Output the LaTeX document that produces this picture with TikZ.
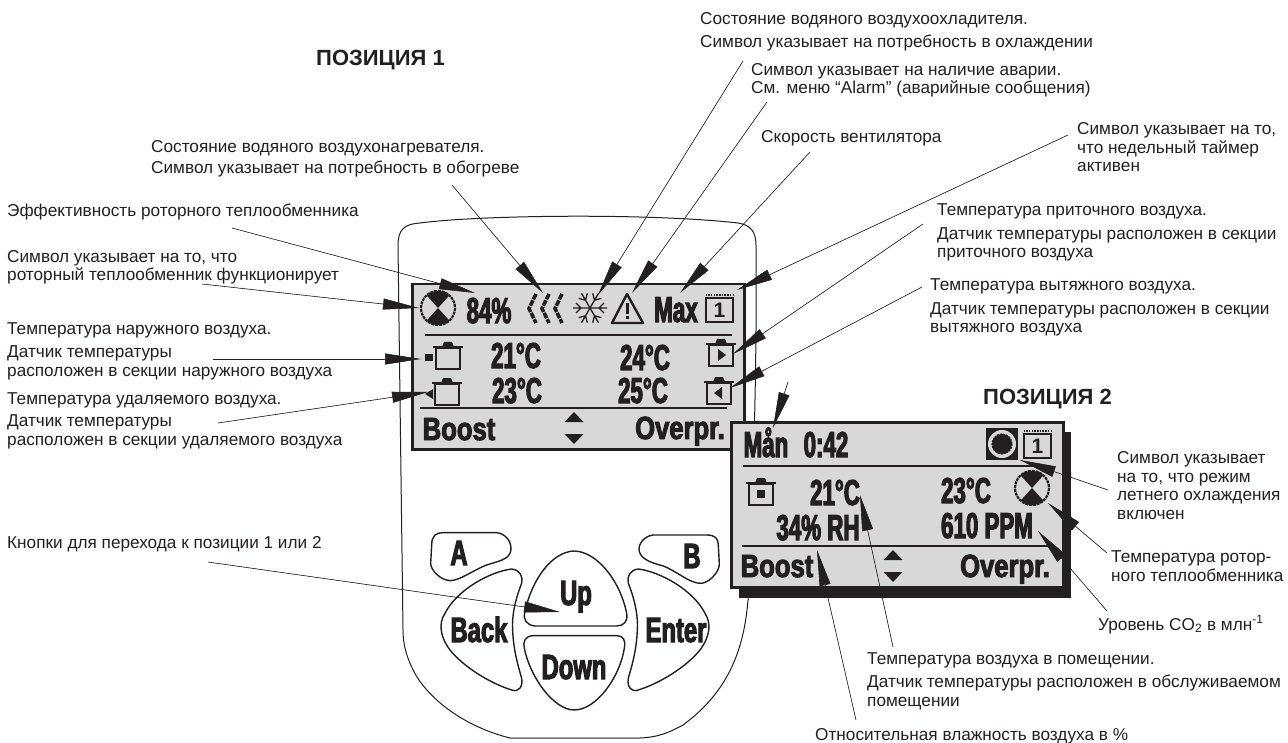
\documentclass[tikz,border=0pt]{standalone}
\usepackage{fontspec}
\setmainfont{Liberation Sans}
\newfontfamily\lcdfont[UprightFont=* Bold,FakeStretch=0.62,FakeBold=3]{Liberation Sans}
\newfontfamily\keyfont[UprightFont=* Bold,FakeStretch=0.8,FakeBold=3]{Liberation Sans}
\newfontfamily\btnfont[UprightFont=* Bold,FakeStretch=0.68,FakeBold=3]{Liberation Sans}
\usepackage{tikz}
\usetikzlibrary{arrows.meta}
\definecolor{ink}{HTML}{231F20}
\definecolor{lcdgray}{HTML}{D9D8D8}

\begin{document}
\begin{tikzpicture}[
    x=1pt, y=-1pt,
    lbl/.style={anchor=base west, inner sep=0pt, align=left, text=ink,
                font=\fontsize{17.2}{18.5}\selectfont},
    heading/.style={anchor=base west, inner sep=0pt, text=ink,
                font=\bfseries\fontsize{22}{24}\selectfont},
    lcdtxt/.style={anchor=base, inner sep=0pt, text=ink,
                font=\lcdfont\fontsize{36}{36}\selectfont},
    keytxt/.style={anchor=base, inner sep=0pt, text=ink,
                font=\keyfont\fontsize{32}{32}\selectfont},
    btntxt/.style={anchor=base, inner sep=0pt, text=ink,
                font=\btnfont\fontsize{35}{35}\selectfont},
    screen/.style={draw=ink, line width=2.5pt, fill=lcdgray},
    rule/.style={draw=ink, line width=1.5pt},
    btn/.style={draw=ink, line width=1.4pt, fill=white, line join=round},
    leader/.style={draw=ink, line width=0.6pt,
                -{Triangle[length=36pt,width=11pt]}, fill=ink},
    fanicon/.pic={
        \fill[ink] (0,0) -- (48:17) arc (48:132:17) -- cycle;
        \fill[ink] (0,0) -- (228:17) arc (228:312:17) -- cycle;
        \draw[ink, line width=2.2pt, dash pattern=on 3pt off 0.8pt] (0,0) circle (17);
    },
    calicon/.pic={
        \draw[ink, line width=2pt] (-13.5,-10) rectangle (14,14);
        \draw[ink, line width=2pt, dash pattern=on 1.5pt off 1.2pt] (-13.5,-13) -- (14,-13);
        \node[inner sep=0pt, text=ink, font=\bfseries\fontsize{21}{21}\selectfont] (digit) at (0.5,2) {1};
    },
    boxicon/.pic={
        \draw[ink, line width=2pt] (-12,-10) rectangle (12,11);
        \draw[ink, line width=2pt] (-15,-11) -- (15,-11);
        \fill[ink] (-6,-11) -- (-4,-16) -- (4,-16) -- (6,-11) -- cycle;
    },
    updown/.pic={
        \fill[ink] (0,-16) -- (9.5,-6) -- (-9.5,-6) -- cycle;
        \fill[ink] (0,16) -- (9.5,6) -- (-9.5,6) -- cycle;
    }
]
\useasboundingbox (0,0) rectangle (1288,743);

% device outline
\draw[ink, line width=1pt] (398,245) .. controls (398,229) and (405,224) .. (420,223)
    .. controls (480,215) and (650,213) .. (738,223)
    .. controls (750,225) and (756,231) .. (756,245)
    .. controls (757,350) and (754,480) .. (748,600)
    .. controls (744,650) and (728,692) .. (683,725)
    .. controls (670,732) and (660,737) .. (640,738) -- (510,738)
    .. controls (470,728) and (435,705) .. (417,677)
    .. controls (407,660) and (403,645) .. (403,630) -- cycle;

% screen position 1
\node[screen, minimum width=332pt, minimum height=165pt, inner sep=0pt, anchor=north west] (screen1) at (411,283) {};
\draw[rule] (425,335) -- (732,335);
\draw[rule] (420,408) -- (727,408);
\pic at (438,308) {fanicon};
\node[lcdtxt] (pct) at (489,323) {84\%};
\foreach \x in {529,542,555}
    \draw[ink, line width=3.6pt, dash pattern=on 6pt off 1pt] (\x+7,294) -- (\x,308.5) -- (\x+7,323);
\foreach \a in {0,60,120,180,240,300}
    \draw[ink, line width=1.3pt, rotate around={\a:(590,308)}] (590,308) -- (607,308) (599,308) -- (604,303) (599,308) -- (604,313);
\draw[ink, line width=2.4pt, line join=round] (627,294) -- (643,323) -- (612,323) -- cycle;
\fill[ink] (625.6,303) rectangle (628.6,314);
\fill[ink] (625.6,316) rectangle (628.6,319);
\node[lcdtxt] (fanspeed) at (676,322) {Max};
\pic at (719,308) {calicon};
\pic at (448,358) {boxicon};
\fill[ink] (425,354) rectangle (433,361);
\node[lcdtxt] (tempout) at (516,368) {21°C};
\node[lcdtxt] (tempsup) at (645,370) {24°C};
\pic at (721,355) {boxicon};
\fill[ink] (718,349) -- (726,355) -- (718,361) -- cycle;
\pic at (447,394) {boxicon};
\fill[ink] (425,394) -- (433,389) -- (433,399) -- cycle;
\node[lcdtxt] (tempexh) at (517,403) {23°C};
\node[lcdtxt] (tempext) at (643,403) {25°C};
\pic at (719,393) {boxicon};
\fill[ink] (722,387) -- (714,393) -- (722,399) -- cycle;
\node[keytxt] (boost1) at (459,440) {Boost};
\pic at (574,428) {updown};
\node[keytxt] (overpr1) at (680,439) {Overpr.};

% screen position 2
\fill[ink] (739,432) rectangle (1071,598);
\node[screen, minimum width=332pt, minimum height=165pt, inner sep=0pt, anchor=north west] (screen2) at (730,421) {};
\node[lcdtxt] (manual) at (766,457) {Mån};
\node[lcdtxt] (clock) at (826,457) {0:42};
\fill[ink] (986,428) rectangle (1018,460);
\fill[lcdgray] (1002,444) circle (14);
\draw[ink, line width=1.2pt, dash pattern=on 2pt off 1pt, fill=ink] (1002,444) circle (10);
\pic at (1037,444) {calicon};
\draw[rule] (743,466) -- (1050,466);
\pic at (761,494) {boxicon};
\fill[ink] (757,490) rectangle (765,498);
\node[lcdtxt] (tempin) at (835,505) {21°C};
\node[lcdtxt] (temprot) at (966,503) {23°C};
\pic at (1032,488) {fanicon};
\node[lcdtxt] (rhum) at (818,540) {34\% RH};
\node[lcdtxt] (ppm) at (987,538) {610 PPM};
\draw[rule] (742,546) -- (1048,546);
\node[keytxt] (boost2) at (777,577) {Boost};
\pic at (893,566) {updown};
\node[keytxt] (overpr2) at (1005,577) {Overpr.};

% buttons
\begin{scope}[shift={(390,470)}, x=0.3333pt, y=-0.3333pt]
\draw[btn] (125,225) .. controls (125,195) and (140,188) .. (160,188) -- (320,188)
    .. controls (345,190) and (368,215) .. (362,245) .. controls (355,270) and (320,275) .. (290,285)
    .. controls (250,300) and (210,332) .. (180,332) .. controls (150,330) and (122,300) .. (122,280) -- cycle;
\draw[btn] (985,225) .. controls (985,205) and (975,195) .. (950,195) -- (790,195)
    .. controls (765,197) and (742,222) .. (748,245) .. controls (755,270) and (790,280) .. (820,288)
    .. controls (860,303) and (900,342) .. (935,340) .. controls (965,335) and (990,300) .. (988,280) -- cycle;
\draw[btn] (365,297) .. controls (390,300) and (400,320) .. (395,340) .. controls (375,390) and (365,440) .. (368,480)
    .. controls (370,540) and (385,590) .. (395,625) .. controls (400,650) and (385,668) .. (365,660)
    .. controls (300,640) and (220,590) .. (180,540) .. controls (150,500) and (145,460) .. (165,430)
    .. controls (200,360) and (300,305) .. (365,297) -- cycle;
\draw[btn] (745,297) .. controls (720,300) and (710,320) .. (715,340) .. controls (735,390) and (745,440) .. (742,480)
    .. controls (740,540) and (725,590) .. (715,625) .. controls (710,650) and (725,668) .. (745,660)
    .. controls (810,640) and (890,590) .. (930,540) .. controls (960,500) and (965,460) .. (945,430)
    .. controls (910,360) and (810,305) .. (745,297) -- cycle;
\draw[btn] (553,243) .. controls (620,245) and (690,330) .. (710,430) .. controls (715,455) and (700,468) .. (680,468)
    -- (435,468) .. controls (410,465) and (398,450) .. (405,425) .. controls (425,330) and (485,245) .. (553,243) -- cycle;
\draw[btn] (430,497) -- (680,497) .. controls (700,497) and (708,510) .. (703,535)
    .. controls (690,620) and (620,720) .. (553,720) .. controls (490,720) and (420,620) .. (403,535)
    .. controls (398,515) and (405,498) .. (430,497) -- cycle;
\end{scope}
\node[btntxt] (btnA) at (459,565) {A};
\node[btntxt] (btnB) at (692,568) {B};
\node[btntxt] (btnUp) at (576,605) {Up};
\node[btntxt] (btnBack) at (479,642) {Back};
\node[btntxt] (btnEnter) at (676,642) {Enter};
\node[btntxt] (btnDown) at (574,679) {Down};

% headings
\node[heading] (pos1) at (316,66) {ПОЗИЦИЯ 1};
\node[heading] (pos2) at (983,404) {ПОЗИЦИЯ 2};

% labels left
\node[lbl] (lefficiency) at (7,217) {Эффективность роторного теплообменника};
\node[lbl] (lrotor) at (7,281) {Символ указывает на то, что\\роторный теплообменник функционирует};
\node[lbl] (loutdoor) at (7,376) {Температура наружного воздуха.\\[5pt]Датчик температуры\\расположен в секции наружного воздуха};
\node[lbl] (lexhaust) at (7,445) {Температура удаляемого воздуха.\\[4pt]Датчик температуры\\расположен в секции удаляемого воздуха};
\node[lbl] (lbuttons) at (7,548) {Кнопки для перехода к позиции 1 или 2};
\node[lbl] (lheater) at (151,174) {Состояние водяного воздухонагревателя.\\[3pt]Символ указывает на потребность в обогреве};

% labels top and right
\node[lbl] (lcooler) at (700,48) {Состояние водяного воздухоохладителя.\\[5pt]Символ указывает на потребность в охлаждении};
\node[lbl] (lalarm) at (751,94) {Символ указывает на наличие аварии.\\См. меню “Alarm” (аварийные сообщения)};
\node[lbl] (lspeed) at (761,143) {Скорость вентилятора};
\node[lbl] (ltimer) at (1077,172) {Символ указывает на то,\\что недельный таймер\\активен};
\node[lbl] (lsupply) at (937,258) {Температура приточного воздуха.\\[5pt]Датчик температуры расположен в секции\\приточного воздуха};
\node[lbl] (lextract) at (930,333) {Температура вытяжного воздуха.\\[5pt]Датчик температуры расположен в секции\\вытяжного воздуха};
\node[lbl] (lsummer) at (1117,519) {Символ указывает\\на то, что режим\\летнего охлаждения\\включен};
\node[lbl] (lrottemp) at (1111,581) {Температура ротор-\\ного теплообменника};
\node[lbl] (lco) at (1098,630) {Уровень CO\textsubscript{2} в млн\textsuperscript{-1}};
\node[lbl] (lroom) at (867,706) {Температура воздуха в помещении.\\[5pt]Датчик температуры расположен в обслуживаемом\\помещении};
\node[lbl] (lhumidity) at (815,740) {Относительная влажность воздуха в \%};

% leaders
\coordinate (a1) at (232,228);  \coordinate (b1) at (475,293);
\coordinate (a2) at (202,284);  \coordinate (b2) at (419,308);
\coordinate (a3) at (213,359);  \coordinate (b3) at (421,359);
\coordinate (a4) at (218,423);  \coordinate (b4) at (428,392);
\coordinate (a5) at (208,562);  \coordinate (b5) at (560,612);
\coordinate (a6) at (452,185);  \coordinate (b6) at (543,293);
\coordinate (a7) at (743,61);   \coordinate (b7) at (598,295);
\coordinate (a8) at (767,102);  \coordinate (b8) at (632,293);
\coordinate (a9) at (810,152);  \coordinate (b9) at (680,293);
\coordinate (a10) at (1068,135); \coordinate (b10) at (737,290);
\coordinate (a11) at (923,224); \coordinate (b11) at (733,354);
\coordinate (a12) at (922,287); \coordinate (b12) at (730,388);
\coordinate (a13) at (788,382); \coordinate (b13) at (773,428);
\coordinate (a14) at (1108,490); \coordinate (b14) at (1020,460);
\coordinate (a15) at (1107,553); \coordinate (b15) at (1048,503);
\coordinate (a16) at (1107,611); \coordinate (b16) at (1038,531);
\coordinate (a17) at (893,647); \coordinate (b17) at (860,495);
\coordinate (a18) at (856,720); \coordinate (b18) at (817,550);
\foreach \i in {1,...,18}
    \draw[leader] (a\i) -- (b\i);
\end{tikzpicture}
\end{document}
